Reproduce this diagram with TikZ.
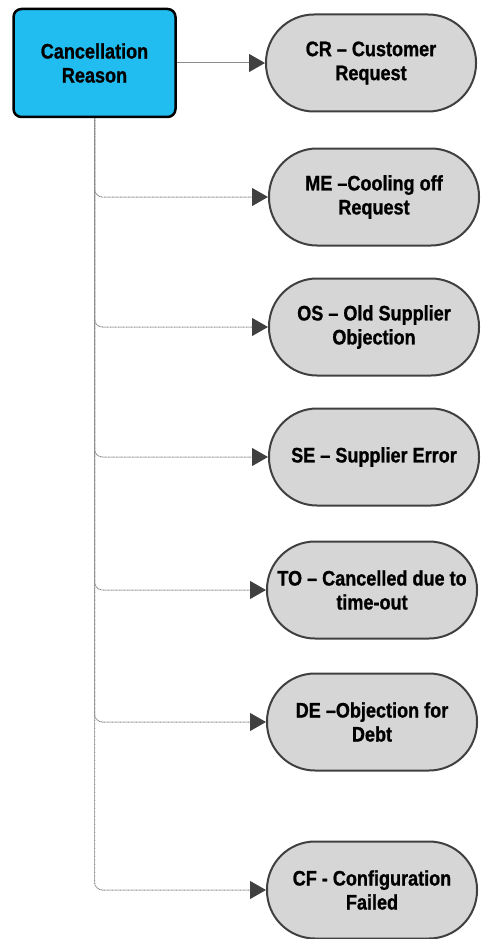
\documentclass[tikz,border=0pt]{standalone}
\usepackage{fontspec}
\setmainfont{Liberation Sans}[FakeStretch=0.86, BoldFeatures={FakeBold=1}]
\usetikzlibrary{arrows.meta}
\definecolor{boxblue}{HTML}{22BDF0}
\definecolor{pillgray}{HTML}{D6D6D6}
\definecolor{edgegray}{HTML}{404040}
\definecolor{linegray}{HTML}{8C8C8C}
\begin{document}
\begin{tikzpicture}[x=1pt, y=-1pt, font=\fontsize{21}{24}\selectfont\bfseries,
  root/.style = {draw=black, line width=2.5pt, fill=boxblue, rounded corners=8pt, minimum width=162pt, minimum height=108pt, align=center, inner sep=0pt},
  main/.style = {draw=edgegray, line width=2pt, fill=pillgray, rounded corners=48pt, minimum width=210pt, minimum height=97pt, align=center, inner sep=0pt},
  link/.style = {draw=linegray, line width=1pt, -{Triangle[length=16pt, width=18pt, color=edgegray]}},
  branch/.style = {link, dash pattern=on 1pt off 0.6pt, rounded corners=8pt}]
\useasboundingbox (0,0) rectangle (480,939);

\node[root] (0) at (94.5,63) {Cancellation\\Reason};

\node[main] (1) at (371,63) {CR – Customer\\Request};
\node[main] (2) at (374,197) {ME –Cooling off\\Request};
\node[main] (3) at (374,327) {OS – Old Supplier\\Objection};
\node[main] (4) at (374,457) {SE – Supplier Error};
\node[main] (5) at (372,590) {TO – Cancelled due to\\time-out};
\node[main] (6) at (372,722) {DE –Objection for\\Debt};
\node[main] (7) at (372,890) {CF - Configuration\\Failed};

\draw [link] (0) -- (1);
\foreach \i in {2,...,7}
  \draw [branch] (0) |- (\i);

\end{tikzpicture}
\end{document}
